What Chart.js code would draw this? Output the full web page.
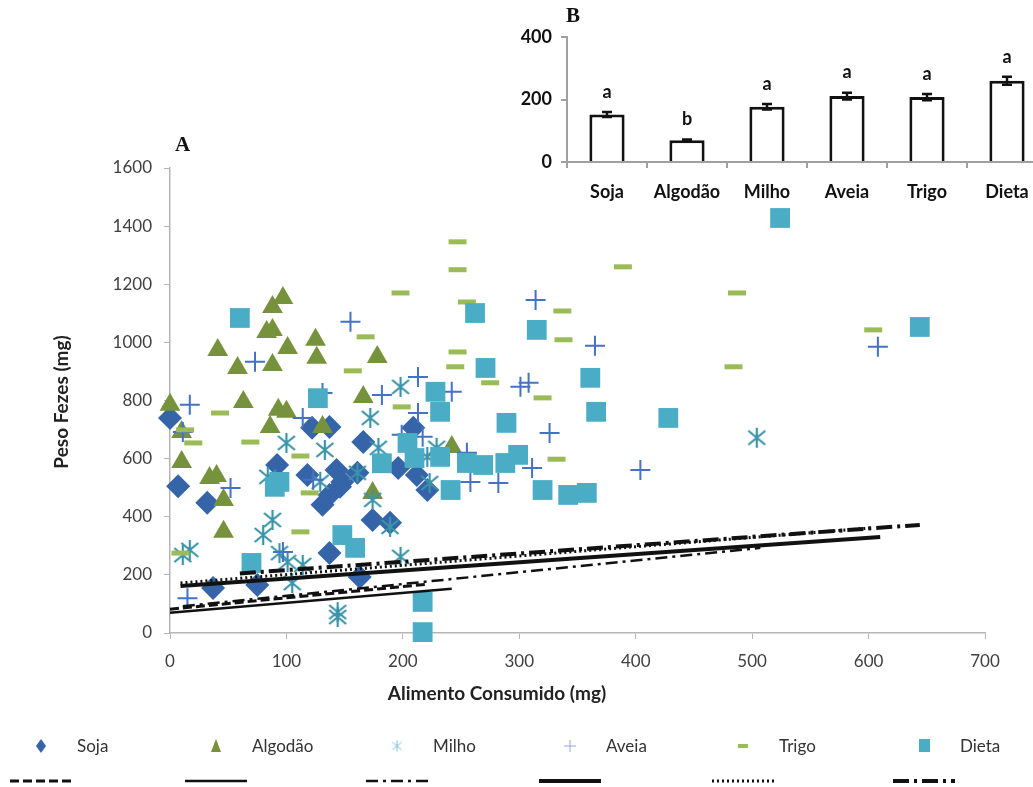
<!DOCTYPE html>
<html>
<head>
<meta charset="utf-8">
<script src="https://cdn.jsdelivr.net/npm/chart.js@4.4.0/dist/chart.umd.min.js"></script>
<style>
html, body { margin: 0; padding: 0; background: #fff; overflow: hidden; }
#wrap { position: relative; width: 1033px; height: 787px; overflow: hidden; }
#main { position: absolute; left: 0; top: 0; }
#inset { position: absolute; left: 480px; top: 0; }
</style>
</head>
<body>
<div id="wrap">
<canvas id="main" width="1033" height="787"></canvas>
<canvas id="inset" width="570" height="215"></canvas>
</div>
<script>
// series names (panel A legend, panel B categories)
const seriesNames = ['Soja', 'Algodão', 'Milho', 'Aveia', 'Trigo', 'Dieta'];

// panel A: Alimento Consumido (mg) vs Peso Fezes (mg)
const sojaX = [0, 7, 32, 37, 75, 92, 118, 122, 137, 143, 131, 137, 146, 166, 174, 189, 209, 196, 212, 221, 163, 137, 161, 148];
const sojaY = [740, 505, 448, 155, 165, 578, 544, 706, 709, 561, 441, 475, 503, 657, 389, 379, 706, 568, 544, 492, 193, 275, 551, 520];

const algodaoX = [0, 10, 10, 34, 40, 46, 46, 41, 58, 63, 88, 97, 83, 88, 101, 88, 93, 100, 86, 125, 126, 131, 166, 174, 178, 242];
const algodaoY = [785, 692, 588, 533, 540, 458, 348, 974, 912, 795, 1122, 1153, 1036, 1043, 981, 922, 768, 761, 709, 1009, 947, 709, 812, 482, 950, 640];

const milhoX = [11, 17, 100, 133, 88, 80, 94, 101, 114, 105, 144, 144, 172, 179, 198, 174, 198, 189, 129, 221, 229, 161, 223, 84, 504];
const milhoY = [268, 286, 654, 630, 389, 337, 275, 244, 234, 172, 72, 55, 740, 637, 847, 458, 262, 365, 520, 606, 637, 551, 516, 537, 672];

const aveiaX = [11, 17, 15, 52, 73, 97, 114, 123, 131, 155, 182, 199, 213, 213, 217, 242, 255, 258, 282, 301, 308, 311, 314, 326, 365, 404, 608];
const aveiaY = [692, 785, 120, 499, 933, 279, 740, 527, 826, 1071, 819, 682, 881, 757, 675, 830, 620, 520, 516, 847, 861, 568, 1146, 688, 988, 561, 985];

const trigoX = [9, 13, 20, 43, 69, 112, 120, 112, 157, 168, 198, 199, 245, 247, 247, 247, 255, 275, 289, 320, 332, 337, 338, 389, 484, 487, 604];
const trigoY = [275, 699, 654, 757, 657, 609, 482, 348, 902, 1019, 1170, 778, 916, 967, 1250, 1346, 1139, 861, 726, 809, 598, 1108, 1009, 1260, 916, 1170, 1043];

const dietaX = [60, 70, 90, 94, 127, 148, 159, 182, 204, 210, 217, 217, 228, 232, 232, 241, 255, 262, 269, 271, 288, 289, 299, 315, 320, 342, 358, 361, 366, 428, 524, 644];
const dietaY = [1084, 241, 503, 520, 808, 337, 293, 584, 654, 602, 107, 3, 830, 761, 606, 492, 585, 1101, 578, 912, 585, 723, 613, 1043, 492, 475, 482, 878, 761, 740, 1428, 1053];

// trend lines, one per series: start and end
const fitX = [[0, 221], [0, 242], [11, 507], [9, 610], [9, 604], [60, 644]];
const fitY = [[82, 168], [70, 152], [92, 293], [162, 330], [172, 362], [205, 372]];

// panel B: means with error bars and letters
const meanValues = [152, 70, 177, 211, 208, 260];
const meanErrors = [8, 2, 9, 11, 10, 13];
const meanLetters = ['a', 'b', 'a', 'a', 'a', 'a'];

const colors = ['#3565A8', '#76923C', '#3A93A8', '#4472C4', '#9BBB59', '#4BACC6'];
const fitDash = [[9, 4], [], [12, 5, 3, 5], [], [2, 3], [16, 5, 3, 5]];
const fitWidth = [3, 2.5, 2.5, 4, 3, 4];

Chart.defaults.font.family = 'Lato, "Open Sans", sans-serif';

function makeStar(size, lw, color) {
    const c = document.createElement('canvas');
    c.width = size;
    c.height = size;
    const g = c.getContext('2d');
    g.strokeStyle = color;
    g.lineWidth = lw;
    const m = size / 2, r = size / 2 - 1;
    g.beginPath();
    g.moveTo(m, m - r); g.lineTo(m, m + r);
    g.moveTo(m - r * 0.85, m - r * 0.7); g.lineTo(m + r * 0.85, m + r * 0.7);
    g.moveTo(m - r * 0.85, m + r * 0.7); g.lineTo(m + r * 0.85, m - r * 0.7);
    g.stroke();
    return c;
}
const starBig = makeStar(22, 2.2, colors[2]);
const starSmall = makeStar(13, 1, '#7fc3d6');

function pts(xs, ys) {
    return xs.map((x, i) => ({ x: x, y: ys[i] }));
}

const pointSets = [
    { x: sojaX, y: sojaY, style: 'rectRot', r: 12, bw: 0 },
    { x: algodaoX, y: algodaoY, style: 'triangle', r: 12, bw: 0 },
    { x: milhoX, y: milhoY, style: starBig, r: 11, bw: 0 },
    { x: aveiaX, y: aveiaY, style: 'cross', r: 10, bw: 2 },
    { x: trigoX, y: trigoY, style: 'line', r: 9, bw: 5 },
    { x: dietaX, y: dietaY, style: 'rect', r: 14, bw: 0 }
];

const datasets = [];
pointSets.forEach((s, i) => {
    datasets.push({
        label: seriesNames[i],
        data: pts(s.x, s.y),
        pointStyle: s.style,
        pointRadius: s.r,
        pointBackgroundColor: colors[i],
        pointBorderColor: colors[i],
        pointBorderWidth: s.bw,
        showLine: false,
        clip: false,
        order: 6 - i
    });
});
fitX.forEach((xs, i) => {
    datasets.push({
        label: seriesNames[i] + ' fit',
        data: pts(xs, fitY[i]),
        showLine: true,
        pointRadius: 0,
        borderColor: '#111',
        borderWidth: fitWidth[i],
        borderDash: fitDash[i],
        borderCapStyle: 'butt',
        clip: false,
        order: 0
    });
});

function drawLegendMarker(ctx, i, x, y) {
    ctx.fillStyle = colors[i];
    ctx.strokeStyle = colors[i];
    ctx.beginPath();
    if (i === 0) {
        ctx.moveTo(x, y - 7); ctx.lineTo(x + 5, y); ctx.lineTo(x, y + 7); ctx.lineTo(x - 5, y);
        ctx.closePath(); ctx.fill();
    } else if (i === 1) {
        ctx.moveTo(x, y - 7); ctx.lineTo(x + 5, y + 6); ctx.lineTo(x - 5, y + 6);
        ctx.closePath(); ctx.fill();
    } else if (i === 2) {
        ctx.drawImage(starSmall, x - 6.5, y - 6.5);
    } else if (i === 3) {
        ctx.strokeStyle = '#8fa9d8';
        ctx.lineWidth = 1;
        ctx.moveTo(x - 6, y); ctx.lineTo(x + 6, y);
        ctx.moveTo(x, y - 6); ctx.lineTo(x, y + 6);
        ctx.stroke();
    } else if (i === 4) {
        ctx.fillRect(x - 5, y - 2, 10, 4);
    } else {
        ctx.fillRect(x - 5, y - 7, 11, 13);
    }
}

const decorPlugin = {
    id: 'decor',
    afterDraw(chart) {
        const ctx = chart.ctx;
        ctx.save();
        ctx.fillStyle = '#111';
        ctx.font = 'bold 21px "Liberation Serif", serif';
        ctx.textAlign = 'left';
        ctx.textBaseline = 'middle';
        ctx.fillText('A', 175, 146);

        ctx.font = 'bold 19px Lato, sans-serif';
        ctx.fillStyle = '#222';
        ctx.textAlign = 'center';
        ctx.fillText('Alimento Consumido (mg)', 497, 694);
        ctx.save();
        ctx.translate(62, 402);
        ctx.rotate(-Math.PI / 2);
        ctx.fillText('Peso Fezes (mg)', 0, 0);
        ctx.restore();

        // legend: markers on first row, trend line styles on second row
        const cols = [41, 216, 397, 570, 743, 924];
        ctx.font = '17px Lato, sans-serif';
        ctx.textAlign = 'left';
        cols.forEach((cx, i) => {
            drawLegendMarker(ctx, i, cx, 746);
            ctx.fillStyle = '#333';
            ctx.fillText(seriesNames[i], cx + 36, 747);
            ctx.beginPath();
            ctx.strokeStyle = '#111';
            ctx.lineWidth = fitWidth[i];
            ctx.setLineDash(fitDash[i]);
            ctx.moveTo(cx - 31, 781);
            ctx.lineTo(cx + 31, 781);
            ctx.stroke();
            ctx.setLineDash([]);
        });
        ctx.restore();
    }
};

new Chart(document.getElementById('main'), {
    type: 'scatter',
    data: { datasets: datasets },
    options: {
        responsive: false,
        animation: false,
        devicePixelRatio: 1,
        layout: { padding: { left: 0, top: 168, right: 48, bottom: 0 } },
        plugins: { legend: { display: false }, tooltip: { enabled: false } },
        scales: {
            x: {
                type: 'linear',
                min: 0,
                max: 700,
                ticks: { stepSize: 100, color: '#404040', font: { size: 17 }, padding: 12, callback: v => String(v) },
                grid: { drawOnChartArea: false, color: '#b5b5b5', tickLength: 6 },
                border: { color: '#b5b5b5', width: 1.5 },
                afterFit: s => { s.height = 154; }
            },
            y: {
                min: 0,
                max: 1600,
                ticks: { stepSize: 200, color: '#404040', font: { size: 17 }, padding: 12, callback: v => String(v) },
                grid: { drawOnChartArea: false, color: '#b5b5b5', tickLength: 6 },
                border: { color: '#b5b5b5', width: 1.5 },
                afterFit: s => { s.width = 170; }
            }
        }
    },
    plugins: [decorPlugin]
});

const insetPlugin = {
    id: 'insetDecor',
    afterDatasetsDraw(chart) {
        const ctx = chart.ctx;
        const xs = chart.scales.x, ys = chart.scales.y;
        ctx.save();
        ctx.strokeStyle = '#111';
        ctx.lineWidth = 2.5;
        ctx.fillStyle = '#111';
        ctx.font = 'bold 18px Lato, sans-serif';
        ctx.textAlign = 'center';
        ctx.textBaseline = 'middle';
        meanValues.forEach((v, i) => {
            const x = xs.getPixelForValue(i);
            const top = ys.getPixelForValue(v + meanErrors[i]);
            const bot = ys.getPixelForValue(v - meanErrors[i]);
            ctx.beginPath();
            ctx.moveTo(x, top); ctx.lineTo(x, bot);
            ctx.moveTo(x - 5, top); ctx.lineTo(x + 5, top);
            ctx.moveTo(x - 5, bot); ctx.lineTo(x + 5, bot);
            ctx.stroke();
            ctx.fillText(meanLetters[i], x, top - 20);
        });
        ctx.font = 'bold 21px "Liberation Serif", serif';
        ctx.textAlign = 'left';
        ctx.fillText('B', 86, 17);
        ctx.restore();
    }
};

new Chart(document.getElementById('inset'), {
    type: 'bar',
    data: {
        labels: seriesNames,
        datasets: [{
            data: meanValues,
            backgroundColor: '#ffffff',
            borderColor: '#111',
            borderWidth: 3,
            barPercentage: 0.44,
            categoryPercentage: 1
        }]
    },
    options: {
        responsive: false,
        animation: false,
        devicePixelRatio: 1,
        layout: { padding: { left: 0, top: 37, right: 3, bottom: 0 } },
        plugins: { legend: { display: false }, tooltip: { enabled: false } },
        scales: {
            x: {
                ticks: { color: '#111', font: { size: 18, weight: 'bold' }, padding: 13 },
                grid: { drawOnChartArea: false, color: '#a0a0a0', tickLength: 6, lineWidth: 2 },
                border: { color: '#a0a0a0', width: 2 },
                afterFit: s => { s.height = 53; }
            },
            y: {
                min: 0,
                max: 400,
                ticks: { stepSize: 200, color: '#111', font: { size: 18, weight: 'bold' }, padding: 9 },
                grid: { drawOnChartArea: false, color: '#a0a0a0', tickLength: 6, lineWidth: 2 },
                border: { color: '#a0a0a0', width: 2 },
                afterFit: s => { s.width = 87; }
            }
        }
    },
    plugins: [insetPlugin]
});
</script>
</body>
</html>
